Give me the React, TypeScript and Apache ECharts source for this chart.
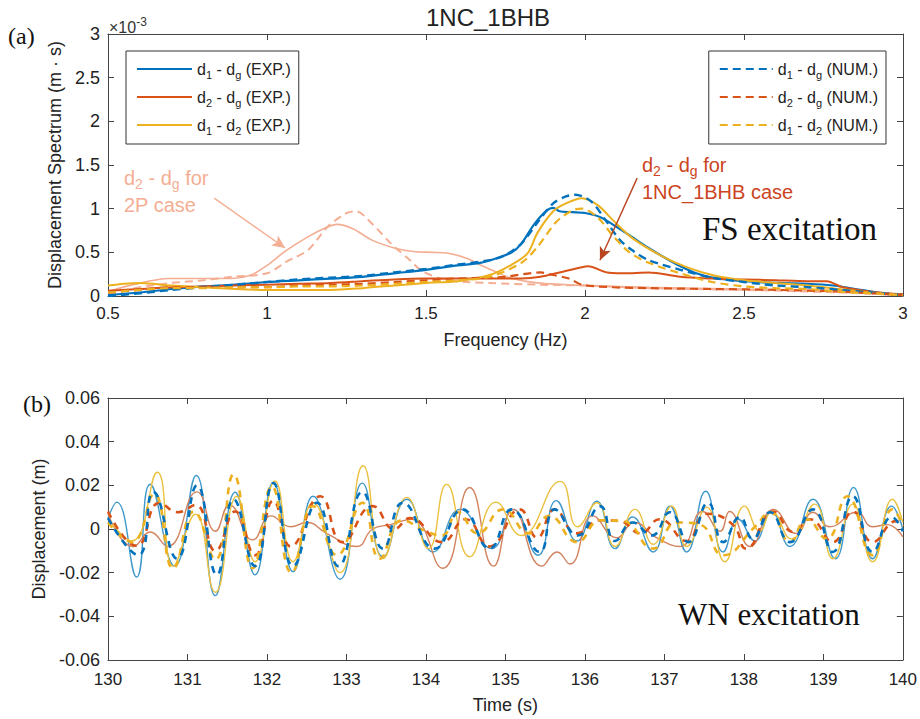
import React, { useEffect, useRef } from 'react';
import * as echarts from 'echarts';

// ---------- (a) spectra: [frequency Hz, value ×1e-3] ----------
const blueExpSpec = [[0.5,0.01],[0.6,0.04],[0.7,0.08],[0.8,0.11],[0.9,0.13],[1.0,0.16],[1.1,0.18],[1.2,0.2],[1.3,0.22],[1.4,0.26],[1.5,0.3],[1.6,0.35],[1.67,0.38],[1.72,0.43],[1.77,0.5],[1.8,0.6],[1.84,0.82],[1.88,0.98],[1.9,1.01],[1.92,0.97],[1.96,0.96],[2.0,0.95],[2.05,0.9],[2.1,0.79],[2.15,0.67],[2.2,0.55],[2.25,0.44],[2.3,0.34],[2.35,0.26],[2.4,0.21],[2.5,0.17],[2.6,0.15],[2.7,0.14],[2.78,0.12],[2.85,0.08],[2.92,0.04],[3.0,0.01]];
const blueNumSpec = [[0.5,0.0],[0.6,0.03],[0.7,0.07],[0.8,0.1],[0.9,0.13],[1.0,0.16],[1.1,0.19],[1.2,0.21],[1.3,0.23],[1.4,0.27],[1.5,0.31],[1.6,0.36],[1.7,0.41],[1.75,0.47],[1.8,0.6],[1.85,0.84],[1.9,1.06],[1.94,1.14],[1.97,1.16],[2.02,1.08],[2.07,0.84],[2.11,0.64],[2.15,0.52],[2.2,0.41],[2.3,0.3],[2.4,0.21],[2.5,0.16],[2.6,0.12],[2.7,0.1],[2.8,0.07],[2.9,0.04],[3.0,0.01]];
const yellowExpSpec = [[0.5,0.12],[0.55,0.14],[0.6,0.15],[0.7,0.12],[0.8,0.1],[0.9,0.08],[1.0,0.07],[1.1,0.07],[1.2,0.07],[1.3,0.09],[1.4,0.12],[1.5,0.15],[1.6,0.17],[1.7,0.24],[1.77,0.36],[1.82,0.49],[1.85,0.72],[1.9,0.97],[1.94,1.06],[1.99,1.12],[2.04,1.04],[2.09,0.86],[2.15,0.66],[2.24,0.46],[2.32,0.33],[2.4,0.24],[2.5,0.18],[2.6,0.15],[2.7,0.12],[2.8,0.08],[2.9,0.04],[3.0,0.01]];
const yellowNumSpec = [[0.5,0.04],[0.6,0.07],[0.7,0.09],[0.8,0.09],[0.9,0.1],[1.0,0.1],[1.1,0.11],[1.2,0.11],[1.3,0.12],[1.4,0.14],[1.5,0.16],[1.6,0.18],[1.7,0.22],[1.8,0.38],[1.85,0.56],[1.91,0.85],[1.96,0.98],[1.99,1.0],[2.04,0.9],[2.09,0.68],[2.14,0.5],[2.2,0.38],[2.3,0.26],[2.4,0.16],[2.5,0.11],[2.6,0.09],[2.7,0.08],[2.8,0.05],[2.9,0.03],[3.0,0.01]];
const orangeExpSpec = [[0.5,0.06],[0.6,0.08],[0.7,0.1],[0.8,0.11],[0.9,0.12],[1.0,0.13],[1.1,0.14],[1.2,0.15],[1.3,0.17],[1.4,0.19],[1.5,0.2],[1.6,0.2],[1.7,0.2],[1.8,0.2],[1.86,0.22],[1.92,0.27],[1.99,0.33],[2.01,0.34],[2.07,0.27],[2.15,0.26],[2.2,0.27],[2.3,0.22],[2.4,0.2],[2.5,0.19],[2.6,0.18],[2.7,0.17],[2.76,0.17],[2.81,0.1],[2.9,0.05],[3.0,0.02]];
const orangeNumSpec = [[0.5,0.04],[0.6,0.07],[0.7,0.1],[0.8,0.1],[0.9,0.1],[1.0,0.1],[1.1,0.12],[1.2,0.13],[1.3,0.14],[1.4,0.16],[1.5,0.18],[1.6,0.2],[1.7,0.21],[1.75,0.22],[1.86,0.27],[1.9,0.24],[1.95,0.2],[1.99,0.13],[2.09,0.1],[2.2,0.09],[2.4,0.08],[2.6,0.07],[2.8,0.05],[3.0,0.01]];
const salmonExpSpec = [[0.5,0.05],[0.58,0.13],[0.69,0.2],[0.79,0.2],[0.89,0.2],[0.95,0.24],[1.0,0.35],[1.06,0.52],[1.13,0.68],[1.19,0.79],[1.22,0.82],[1.27,0.77],[1.33,0.64],[1.4,0.55],[1.46,0.51],[1.52,0.5],[1.57,0.49],[1.63,0.43],[1.68,0.34],[1.73,0.26],[1.77,0.2],[1.85,0.15],[2.0,0.12],[2.2,0.1],[2.5,0.08],[2.8,0.06],[3.0,0.02]];
const salmonNumSpec = [[0.5,0.02],[0.6,0.1],[0.7,0.15],[0.8,0.18],[0.89,0.22],[1.0,0.26],[1.06,0.39],[1.13,0.53],[1.19,0.79],[1.25,0.95],[1.28,0.97],[1.33,0.83],[1.39,0.6],[1.45,0.41],[1.49,0.28],[1.57,0.18],[1.7,0.15],[1.85,0.13],[2.0,0.12],[2.2,0.09],[2.5,0.07],[2.8,0.04],[3.0,0.01]];

// ---------- (b) time histories: [time s, displacement m] ----------
const blueExpTime = [[130,0.005],[130.11,0.0123],[130.36,-0.022],[130.53,0.0205],[130.84,-0.017],[131.11,0.0245],[131.35,-0.0305],[131.6,0.0168],[131.85,-0.021],[132.08,0.0214],[132.33,-0.0195],[132.58,0.015],[132.92,-0.023],[133.2,0.021],[133.46,-0.0127],[133.76,0.0136],[134.09,-0.0105],[134.43,0.009],[134.83,-0.009],[135.1,0.009],[135.41,-0.012],[135.64,0.013],[135.9,-0.0055],[136.15,0.0127],[136.38,-0.009],[136.6,0.0055],[136.86,-0.0105],[137.07,0.0105],[137.28,-0.0105],[137.52,0.0173],[137.74,-0.0105],[137.93,0.0045],[138.14,-0.0055],[138.34,0.0082],[138.58,-0.008],[138.87,0.0136],[139.15,-0.0136],[139.38,0.019],[139.62,-0.0136],[139.86,0.0105],[140,0]];
const yellowExpTime = [[130,0.0045],[130.3,-0.0055],[130.62,0.026],[130.82,-0.017],[131.1,0.0068],[131.35,-0.029],[131.62,0.015],[131.85,-0.015],[132.1,0.022],[132.33,-0.015],[132.58,0.012],[132.92,-0.02],[133.21,0.029],[133.46,-0.0135],[133.76,0.0145],[134.03,-0.009],[134.26,0.0205],[134.55,-0.0127],[134.88,0.0123],[135.2,-0.003],[135.69,0.0218],[135.91,0.001],[136.15,0.012],[136.38,-0.008],[136.63,0.009],[136.86,-0.007],[137.09,0.0105],[137.28,-0.008],[137.53,0.01],[137.76,-0.015],[138.01,0.0105],[138.2,-0.001],[138.35,0.008],[138.6,-0.0045],[138.89,0.0114],[139.12,-0.0136],[139.37,0.0114],[139.62,-0.015],[139.87,0.0136],[140,0.003]];
const orangeExpTime = [[130,0.007],[130.32,-0.008],[130.53,-0.0014],[130.75,-0.008],[131.12,0.017],[131.35,-0.001],[131.53,0.011],[131.82,-0.005],[132.05,0.006],[132.3,0.001],[132.5,0.003],[132.75,-0.002],[133.13,-0.008],[133.33,0],[133.55,0.002],[133.82,0.0045],[134.21,-0.018],[134.55,0.019],[134.85,-0.017],[135.1,0.009],[135.46,-0.017],[135.65,-0.0105],[135.81,-0.016],[136.1,0.006],[136.4,-0.004],[136.62,0.003],[136.9,-0.004],[137.2,-0.008],[137.48,0.008],[137.7,-0.001],[137.82,0.008],[138.08,-0.008],[138.37,0.009],[138.66,-0.002],[138.87,0.0077],[139.08,0.001],[139.42,0.0077],[139.62,0.001],[139.8,0.002],[140,-0.0036]];
const blueNumTime = [[130,0.005],[130.38,-0.012],[130.57,0.017],[130.87,-0.0136],[131.12,0.02],[131.37,-0.021],[131.58,0.0136],[131.85,-0.017],[132.08,0.021],[132.33,-0.017],[132.63,0.012],[132.9,-0.017],[133.2,0.017],[133.46,-0.009],[133.71,0.012],[134.11,-0.009],[134.46,0.009],[134.8,-0.009],[135.08,0.009],[135.43,-0.0105],[135.62,0.009],[135.91,-0.003],[136.19,0.0105],[136.38,-0.0055],[136.6,0.003],[136.84,-0.003],[137.07,0.0077],[137.3,-0.006],[137.55,0.012],[137.74,-0.006],[137.95,0.0055],[138.11,-0.0045],[138.33,0.0077],[138.58,-0.006],[138.87,0.009],[139.12,-0.0105],[139.37,0.015],[139.62,-0.0105],[139.86,0.0055],[140,-0.001]];
const yellowNumTime = [[130,0.003],[130.3,-0.006],[130.58,0.016],[130.82,-0.018],[131.08,0.008],[131.35,-0.014],[131.58,0.025],[131.82,-0.018],[132.06,0.0195],[132.31,-0.02],[132.58,0.0105],[132.88,-0.012],[133.2,0.012],[133.42,-0.0136],[133.7,0.004],[134.0,-0.001],[134.2,-0.003],[134.4,0.0077],[134.65,-0.002],[134.97,0.009],[135.3,-0.002],[135.55,0.006],[135.9,-0.006],[136.2,0.004],[136.48,0.0036],[136.86,-0.009],[137.16,0.003],[137.45,0.002],[137.74,-0.012],[138.14,0.001],[138.33,0.0077],[138.58,-0.006],[138.79,0.0045],[139.04,-0.0045],[139.3,0.015],[139.62,-0.012],[139.87,0.009],[140,0.0014]];
const orangeNumTime = [[130,0.008],[130.36,-0.0077],[130.65,0.012],[130.88,0.0077],[131.1,0.011],[131.35,-0.01],[131.6,0.008],[131.85,-0.012],[132.08,0.013],[132.3,-0.008],[132.67,0.015],[132.95,-0.006],[133.33,0.0105],[133.6,0.0],[133.8,0.005],[134.2,-0.006],[134.5,0.0045],[134.8,-0.008],[135.18,0.009],[135.4,-0.004],[135.62,0.009],[135.9,-0.002],[136.2,0.004],[136.44,0.0036],[136.7,-0.002],[136.94,0.0045],[137.28,-0.0055],[137.53,0.007],[137.86,0.002],[138.03,-0.009],[138.37,0.008],[138.62,-0.0014],[138.83,0.0045],[139.12,-0.006],[139.37,0.008],[139.62,-0.006],[139.92,0.0036],[140,0.002]];

// axes ranges / ticks
const freqRange = [0.5, 3, 0.5];
const specRange = [0, 3, 0.5];
const timeRange = [130, 140, 1];
const dispRange = [-0.06, 0.06, 0.02];

const legendLabels: Record<string, string> = {
  'd1-dg EXP': 'd{s|1} - d{s|g} (EXP.)',
  'd2-dg EXP': 'd{s|2} - d{s|g} (EXP.)',
  'd1-d2 EXP': 'd{s|1} - d{s|2} (EXP.)',
  'd1-dg NUM': 'd{s|1} - d{s|g} (NUM.)',
  'd2-dg NUM': 'd{s|2} - d{s|g} (NUM.)',
  'd1-d2 NUM': 'd{s|1} - d{s|2} (NUM.)',
};

const SANS = '"Liberation Sans", Arial, sans-serif';
const SERIF = '"Liberation Serif", "Times New Roman", serif';
const C = { blue: '#0072BD', orange: '#D95319', yellow: '#EDB120', salmon: '#F4AE93' };
const CB = { blue: '#3F98CB', orange: '#D2835E', yellow: '#EBC13F' };

function App() {
  const ref = useRef<HTMLDivElement>(null);
  useEffect(() => {
    if (!ref.current) return;
    const chart = echarts.init(ref.current, undefined, { renderer: 'svg' });

    const axisLine = { show: true, onZero: false, lineStyle: { color: '#444', width: 1 } };
    const tickIn = { show: true, inside: true, length: 6, lineStyle: { color: '#444' } };
    const lbl = { fontFamily: SANS, color: '#222' };
    const xAx = (gi: number, r: number[], pos: string, name?: string, gap?: number, margin?: number) => ({
      type: 'value', gridIndex: gi, position: pos, min: r[0], max: r[1], interval: r[2],
      axisLine, axisTick: tickIn, splitLine: { show: false },
      axisLabel: pos === 'bottom' ? { ...lbl, fontSize: 17, margin, formatter: (v: number) => String(+v.toFixed(2)) } : { show: false },
      name: name || '', nameLocation: 'middle', nameGap: gap || 0,
      nameTextStyle: { fontFamily: SANS, fontSize: 18, color: '#222' },
    });
    const yAx = (gi: number, r: number[], pos: string, name?: string, gap?: number) => ({
      type: 'value', gridIndex: gi, position: pos, min: r[0], max: r[1], interval: r[2],
      axisLine, axisTick: tickIn, splitLine: { show: false },
      axisLabel: pos === 'left' ? { ...lbl, fontSize: 18, margin: 8, formatter: (v: number) => String(+v.toFixed(2)) } : { show: false },
      name: name || '', nameLocation: 'middle', nameGap: gap || 0,
      nameTextStyle: { fontFamily: SANS, fontSize: 18, color: '#222' },
    });

    const ln = (name: string, data: number[][], color: string, width: number, dashed: boolean, g: number, smooth: number, z: number, extra: any = {}) => ({
      type: 'line', name, data, xAxisIndex: g * 2, yAxisIndex: g * 2, symbol: 'none', showSymbol: false,
      smooth, z, silent: true,
      lineStyle: { color, width, type: dashed ? (g === 0 ? [8, 5] : [7, 6]) : 'solid' },
      itemStyle: { color },
      ...extra,
    });

    const arrow = (color: string, from: number[], to: number[]) => ({
      silent: true, symbol: ['none', 'arrow'], symbolSize: [9, 13],
      lineStyle: { color, width: 1.4, type: 'solid' }, label: { show: false },
      data: [[{ coord: from }, { coord: to }]],
    });

    const legendBase = {
      orient: 'vertical', top: 51, itemHeight: 14, itemGap: 6, padding: [7, 8, 8, 10],
      borderColor: '#333', borderWidth: 1, backgroundColor: '#fff', selectedMode: false,
      itemStyle: { color: 'rgba(0,0,0,0)', borderColor: 'rgba(0,0,0,0)', borderWidth: 0, opacity: 0 },
      textStyle: {
        fontFamily: SANS, fontSize: 16, color: '#222', lineHeight: 22,
        rich: { s: { fontFamily: SANS, fontSize: 11, lineHeight: 11, verticalAlign: 'bottom', color: '#222' } },
      },
      formatter: (n: string) => legendLabels[n] || n,
    };

    const subRich = (color: string, fs: number) => ({ s: { fontFamily: SANS, fontSize: fs, lineHeight: fs, verticalAlign: 'bottom', fill: color } });

    const option: any = {
      animation: false,
      backgroundColor: '#fff',
      grid: [
        { left: 108, top: 34, width: 795, height: 262, show: false },
        { left: 108, top: 398, width: 795, height: 262, show: false },
      ],
      xAxis: [
        xAx(0, freqRange, 'bottom', 'Frequency (Hz)', 35, 9),
        xAx(0, freqRange, 'top'),
        xAx(1, timeRange, 'bottom', 'Time (s)', 36, 11),
        xAx(1, timeRange, 'top'),
      ],
      yAxis: [
        yAx(0, specRange, 'left', 'Displacement Spectrum (m · s)', 41),
        yAx(0, specRange, 'right'),
        yAx(1, dispRange, 'left', 'Displacement (m)', 53),
        yAx(1, dispRange, 'right'),
      ],
      legend: [
        { ...legendBase, left: 126, itemWidth: 55, data: ['d1-dg EXP', 'd2-dg EXP', 'd1-d2 EXP'] },
        { ...legendBase, right: 34, itemWidth: 53, data: ['d1-dg NUM', 'd2-dg NUM', 'd1-d2 NUM'] },
      ],
      series: [
        ln('2P d2-dg EXP', salmonExpSpec, C.salmon, 1.6, false, 0, 0.3, 1, { markLine: arrow(C.salmon, [0.834, 1.12], [1.057, 0.55]) }),
        ln('2P d2-dg NUM', salmonNumSpec, C.salmon, 2, true, 0, 0.3, 1),
        ln('d1-dg EXP', blueExpSpec, C.blue, 2.2, false, 0, 0.3, 3),
        ln('d2-dg EXP', orangeExpSpec, C.orange, 2, false, 0, 0.3, 3, { markLine: arrow('#B8451F', [2.164, 1.35], [2.047, 0.41]) }),
        ln('d1-d2 EXP', yellowExpSpec, C.yellow, 2, false, 0, 0.3, 3),
        ln('d1-dg NUM', blueNumSpec, C.blue, 2.4, true, 0, 0.3, 4),
        ln('d2-dg NUM', orangeNumSpec, C.orange, 2.2, true, 0, 0.3, 4),
        ln('d1-d2 NUM', yellowNumSpec, C.yellow, 2.2, true, 0, 0.3, 4),

        ln('b d1-dg EXP', blueExpTime, CB.blue, 1.4, false, 1, 0.5, 2),
        ln('b d2-dg EXP', orangeExpTime, CB.orange, 1.4, false, 1, 0.5, 2),
        ln('b d1-d2 EXP', yellowExpTime, CB.yellow, 1.4, false, 1, 0.5, 2),
        ln('b d2-dg NUM', orangeNumTime, C.orange, 2.6, true, 1, 0.5, 3),
        ln('b d1-d2 NUM', yellowNumTime, C.yellow, 2.6, true, 1, 0.5, 3),
        ln('b d1-dg NUM', blueNumTime, C.blue, 2.6, true, 1, 0.5, 4),
      ],
      graphic: [
        { type: 'text', x: 488, y: 17, style: { text: '1NC_1BHB', fontFamily: SANS, fontSize: 24, fill: '#222', align: 'center', verticalAlign: 'middle' } },
        { type: 'text', x: 109, y: 27, style: { text: '×10{p|-3}', fontFamily: SANS, fontSize: 16, fill: '#333', verticalAlign: 'middle', lineHeight: 22, rich: { p: { fontFamily: SANS, fontSize: 12, lineHeight: 12, verticalAlign: 'top', fill: '#333' } } } },
        { type: 'text', x: 8, y: 36, style: { text: '(a)', fontFamily: SERIF, fontSize: 24, fill: '#111', verticalAlign: 'middle' } },
        { type: 'text', x: 23, y: 404, style: { text: '(b)', fontFamily: SERIF, fontSize: 24, fill: '#111', verticalAlign: 'middle' } },
        { type: 'text', x: 124, y: 178, style: { text: 'd{s|2} - d{s|g} for', fontFamily: SANS, fontSize: 20, lineHeight: 26, fill: C.salmon, verticalAlign: 'middle', rich: subRich(C.salmon, 14) } },
        { type: 'text', x: 124, y: 205, style: { text: '2P case', fontFamily: SANS, fontSize: 20, fill: C.salmon, verticalAlign: 'middle' } },
        { type: 'text', x: 642, y: 165, style: { text: 'd{s|2} - d{s|g} for', fontFamily: SANS, fontSize: 20, lineHeight: 26, fill: '#CC4422', verticalAlign: 'middle', rich: subRich('#CC4422', 14) } },
        { type: 'text', x: 642, y: 192, style: { text: '1NC_1BHB case', fontFamily: SANS, fontSize: 20, fill: '#CC4422', verticalAlign: 'middle' } },
        { type: 'text', x: 702, y: 229, style: { text: 'FS excitation', fontFamily: SERIF, fontSize: 33, fill: '#111', verticalAlign: 'middle' } },
        { type: 'text', x: 678, y: 614, style: { text: 'WN excitation', fontFamily: SERIF, fontSize: 31, fill: '#111', verticalAlign: 'middle' } },
      ],
    };
    chart.setOption(option);
    return () => chart.dispose();
  }, []);
  return <div ref={ref} style={{ position: 'fixed', left: 0, top: 0, width: 920, height: 719, background: '#fff' }} />;
}

export default App;
